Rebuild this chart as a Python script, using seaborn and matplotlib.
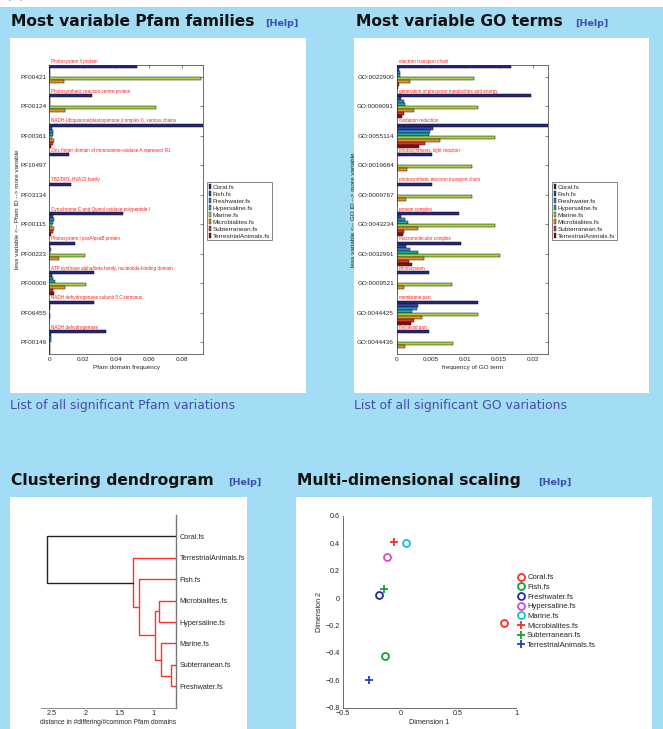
import matplotlib
matplotlib.use("Agg")
from matplotlib import pyplot as plt
from matplotlib.patches import Rectangle, Patch
import pandas as pd
import seaborn as sns

# ---- data ----
samples = ["Coral.fs", "Fish.fs", "Freshwater.fs", "Hypersaline.fs", "Marine.fs",
           "Microbialites.fs", "Subterranean.fs", "TerrestrialAnimals.fs"]
bar_colors = ["#26267a", "#3345ad", "#2a8fd0", "#1fae9e", "#a6d23e",
              "#e8902a", "#e23030", "#7c1616"]

pfam_ids = ["PF00421", "PF00124", "PF00361", "PF10497", "PF03134",
            "PF00115", "PF00223", "PF00006", "PF06455", "PF00146"]
pfam_names = ["Photosystem II protein",
              "Photosynthetic reaction centre protein",
              "NADH-Ubiquinone/plastoquinone (complex I), various chains",
              "Zinc-finger domain of monoamine-oxidase A repressor R1",
              "TB2/DP1, HVA22 family",
              "Cytochrome C and Quinol oxidase polypeptide I",
              "Photosystem I psaA/psaB protein",
              "ATP synthase alpha/beta family, nucleotide-binding domain",
              "NADH dehydrogenase subunit 5 C-terminus",
              "NADH dehydrogenase"]
pfam_coral = [0.0524, 0.0258, 0.094, 0.0120, 0.0130, 0.0444, 0.0154, 0.0270, 0.0266, 0.0338]
pfam_fish = [0.0003, 0.0005, 0.0014, 0.0001, 0.0001, 0.0020, 0.0005, 0.0015, 0.0002, 0.0008]
pfam_fresh = [0.0005, 0.0004, 0.0024, 0.0, 0.0, 0.0030, 0.0010, 0.0020, 0.0002, 0.0010]
pfam_hyper = [0.0002, 0.0002, 0.0024, 0.0, 0.0, 0.0025, 0.0002, 0.0037, 0.0001, 0.0010]
pfam_marine = [0.0914, 0.0638, 0.0014, 0.0, 0.0, 0.0018, 0.0215, 0.0218, 0.0003, 0.0003]
pfam_micro = [0.0088, 0.0094, 0.0030, 0.0, 0.0, 0.0028, 0.0060, 0.0094, 0.0002, 0.0005]
pfam_sub = [0.0001, 0.0001, 0.0024, 0.0, 0.0, 0.0025, 0.0001, 0.0020, 0.0001, 0.0005]
pfam_terr = [0.0001, 0.0001, 0.0008, 0.0, 0.0, 0.0010, 0.0001, 0.0027, 0.0001, 0.0005]

go_ids = ["GO:0022900", "GO:0006091", "GO:0055114", "GO:0019684", "GO:0009767",
          "GO:0043234", "GO:0032991", "GO:0009521", "GO:0044425", "GO:0044436"]
go_names = ["electron transport chain",
            "generation of precursor metabolites and energy",
            "oxidation reduction",
            "photosynthesis, light reaction",
            "photosynthetic electron transport chain",
            "protein complex",
            "macromolecular complex",
            "photosystem",
            "membrane part",
            "thylakoid part"]
go_coral = [0.0168, 0.0198, 0.0230, 0.0052, 0.0052, 0.0092, 0.0095, 0.0047, 0.0119, 0.0047]
go_fish = [0.0003, 0.0007, 0.0054, 0.0001, 0.0001, 0.0006, 0.0013, 0.0001, 0.0032, 0.0001]
go_fresh = [0.0005, 0.0011, 0.0049, 0.0, 0.0, 0.0012, 0.0020, 0.0001, 0.0030, 0.0001]
go_hyper = [0.0005, 0.0012, 0.0048, 0.0, 0.0, 0.0016, 0.0032, 0.0, 0.0022, 0.0]
go_marine = [0.0113, 0.0119, 0.0144, 0.0111, 0.0111, 0.0145, 0.0152, 0.0082, 0.0120, 0.0083]
go_micro = [0.0019, 0.0026, 0.0064, 0.0015, 0.0014, 0.0031, 0.0040, 0.0011, 0.0037, 0.0012]
go_sub = [0.0004, 0.0011, 0.0042, 0.0, 0.0, 0.0010, 0.0018, 0.0, 0.0026, 0.0]
go_terr = [0.0002, 0.0008, 0.0033, 0.0, 0.0, 0.0009, 0.0023, 0.0, 0.0021, 0.0]

# dendrogram: leaves top to bottom, then merges (node ids >= 8 are earlier merges)
dendro_leaves = ["Coral.fs", "TerrestrialAnimals.fs", "Fish.fs", "Microbialites.fs",
                 "Hypersaline.fs", "Marine.fs", "Subterranean.fs", "Freshwater.fs"]
link_a = [6, 5, 3, 10, 2, 1, 0]
link_b = [7, 8, 4, 9, 11, 12, 13]
link_h = [0.755, 0.90, 0.92, 0.985, 1.22, 1.30, 2.57]

mds_x = [0.90, -0.13, -0.19, -0.12, 0.05, -0.06, -0.14, -0.27]
mds_y = [-0.18, -0.42, 0.02, 0.30, 0.40, 0.41, 0.065, -0.60]
mds_colors = ["#ff2a2a", "#12a035", "#2a2aa0", "#e048c0", "#12c0e0",
              "#ff2a2a", "#12a035", "#2a3cc0"]
mds_markers = ["o", "o", "o", "o", "o", "+", "+", "+"]

# ---- figure ----
sns.set_style("white")
plt.rcParams["font.family"] = ["Liberation Sans", "DejaVu Sans"]

W, H = 663, 729
BG = "#a2dcf5"
fig = plt.figure(figsize=(W / 100, H / 100), dpi=100, facecolor=BG)


def px_axes(l, t, r, b):
    return fig.add_axes([l / W, 1 - b / H, (r - l) / W, (b - t) / H])


def px_text(x, y, s, **kw):
    return fig.text(x / W, 1 - y / H, s, **kw)


def panel(l, t, r, b, color="white"):
    rect = Rectangle((l / W, 1 - b / H), (r - l) / W, (b - t) / H,
                     transform=fig.transFigure, facecolor=color,
                     edgecolor="none", zorder=-5)
    fig.patches.append(rect)
    return rect


# top strip with the (cut) panel letter
panel(0, 0, W, 7)
px_text(6, 2, "(a)", fontsize=10, family="DejaVu Sans", va="bottom")

p1 = panel(10, 38, 306, 393)
p2 = panel(354, 38, 649, 393)
p3 = panel(10, 497, 247, 729)
p4 = panel(296, 497, 652, 729)

title_kw = dict(family="DejaVu Sans", fontweight="bold", fontsize=11.2, color="#111111")
help_kw = dict(family="DejaVu Sans", fontweight="bold", fontsize=6.8, color="#3d4eb0")
link_kw = dict(family="DejaVu Sans", fontsize=8.9, color="#4a4aa8")

px_text(11, 26, "Most variable Pfam families", **title_kw)
px_text(265, 26, "[Help]", **help_kw)
px_text(356, 26, "Most variable GO terms", **title_kw)
px_text(575, 26, "[Help]", **help_kw)
px_text(10, 409, "List of all significant Pfam variations", **link_kw)
px_text(354, 409, "List of all significant GO variations", **link_kw)
px_text(11, 485, "Clustering dendrogram", **title_kw)
px_text(228, 485, "[Help]", **help_kw)
px_text(297, 485, "Multi-dimensional scaling", **title_kw)
px_text(538, 485, "[Help]", **help_kw)


def bar_panel(ax, ids, names, cols, xmax, xticks, xticklabels, xlabel, ylabel, leg_xy):
    rows = []
    for s, vals in zip(samples, cols):
        for i, v in zip(ids, vals):
            rows.append({"id": i, "freq": v, "sample": s})
    df = pd.DataFrame(rows)
    sns.barplot(data=df, x="freq", y="id", hue="sample", hue_order=samples,
                order=ids, palette=bar_colors, orient="h", saturation=1,
                edgecolor="#111111", linewidth=0.35, width=0.8, ax=ax, legend=False)
    ax.set_xlim(0, xmax)
    ax.set_ylim(len(ids) - 0.6, -0.4)
    ax.set_xticks(xticks)
    ax.set_xticklabels(xticklabels)
    ax.tick_params(direction="in", length=2, width=0.4, labelsize=4.6,
                   top=True, right=True, pad=2)
    for sp in ax.spines.values():
        sp.set_linewidth(0.5)
        sp.set_color("#333333")
    ax.set_xlabel(xlabel, fontsize=4.6, labelpad=2)
    ax.set_ylabel(ylabel, fontsize=4.6, labelpad=0.5)
    for k, name in enumerate(names):
        ax.text(0.0011 * xmax / 0.09, k - 0.43, name, color="#ff1a1a", fontsize=3.3,
                va="bottom", ha="left", clip_on=False)
    handles = [Patch(facecolor=c, edgecolor="#111111", linewidth=0.3, label=s)
               for s, c in zip(samples, bar_colors)]
    ax.legend(handles=handles, loc="upper left",
              bbox_to_anchor=(leg_xy[0] / W, 1 - leg_xy[1] / H),
              bbox_transform=fig.transFigure, fontsize=4.6, frameon=True,
              fancybox=False, edgecolor="#555555", framealpha=1,
              handlelength=0.35, handleheight=1.0, handletextpad=0.3,
              labelspacing=0.15, borderpad=0.25, borderaxespad=0)
    ax.get_legend().get_frame().set_linewidth(0.5)


ax1 = px_axes(49.3, 65, 203.3, 354)
bar_panel(ax1, pfam_ids, pfam_names,
          [pfam_coral, pfam_fish, pfam_fresh, pfam_hyper, pfam_marine,
           pfam_micro, pfam_sub, pfam_terr],
          0.0925, [0, 0.02, 0.04, 0.06, 0.08], ["0", "0.02", "0.04", "0.06", "0.08"],
          "Pfam domain frequency", "less variable <-- Pfam ID --> more variable",
          (207, 182))

ax2 = px_axes(396.7, 65, 547.7, 354)
bar_panel(ax2, go_ids, go_names,
          [go_coral, go_fish, go_fresh, go_hyper, go_marine,
           go_micro, go_sub, go_terr],
          0.0222, [0, 0.005, 0.01, 0.015, 0.02], ["0", "0.005", "0.01", "0.015", "0.02"],
          "frequency of GO term", "less variable <-- GO ID --> more variable",
          (552, 182))

# ---- dendrogram ----
ax3 = px_axes(40.7, 515, 175.7, 707.7)
node_y = {i: i + 1 for i in range(len(dendro_leaves))}
node_h = {i: 0.0 for i in range(len(dendro_leaves))}
for k, (a, b, h) in enumerate(zip(link_a, link_b, link_h)):
    col = "#222222" if k == len(link_h) - 1 else "#ff3030"
    ax3.plot([node_h[a], h, h, node_h[b]], [node_y[a], node_y[a], node_y[b], node_y[b]],
             color=col, lw=1.0, solid_joinstyle="miter")
    new = len(dendro_leaves) + k
    node_y[new] = (node_y[a] + node_y[b]) / 2
    node_h[new] = h
ax3.set_xlim(2.66, 0.68)
ax3.set_ylim(9, 0)
ax3.set_xticks([2.5, 2, 1.5, 1])
ax3.set_xticklabels(["2.5", "2", "1.5", "1"])
ax3.set_yticks(range(1, len(dendro_leaves) + 1))
ax3.set_yticklabels(dendro_leaves)
ax3.yaxis.tick_right()
for lab in ax3.get_yticklabels():
    lab.set_clip_path(p3)
ax3.tick_params(axis="y", length=0, labelsize=5.2, pad=3)
ax3.tick_params(axis="x", direction="in", length=2, width=0.4, labelsize=5.2, pad=2)
for side in ["top", "left"]:
    ax3.spines[side].set_visible(False)
for side in ["right", "bottom"]:
    ax3.spines[side].set_color("#777777")
ax3.spines["right"].set_linewidth(1.0)
ax3.spines["bottom"].set_linewidth(0.6)
ax3.set_xlabel("distance in #differing/#common Pfam domains", fontsize=4.8, labelpad=1)
ax3.set_facecolor("none")

# ---- MDS ----
ax4 = px_axes(342.7, 516, 516, 707.7)
for name, x, y, c, m in zip(samples, mds_x, mds_y, mds_colors, mds_markers):
    ax4.plot(x, y, m, mfc="none", mec=c, mew=1.3,
             ms=5 if m == "o" else 6, ls="none", label=name)
ax4.set_xlim(-0.5, 1)
ax4.set_ylim(-0.8, 0.6)
ax4.set_xticks([-0.5, 0, 0.5, 1])
ax4.set_xticklabels(["\u22120.5", "0", "0.5", "1"])
ax4.set_yticks([-0.8, -0.6, -0.4, -0.2, 0, 0.2, 0.4, 0.6])
ax4.set_yticklabels(["\u22120.8", "\u22120.6", "\u22120.4", "\u22120.2", "0", "0.2", "0.4", "0.6"])
ax4.tick_params(direction="in", length=2, width=0.4, labelsize=5.2, pad=2)
sns.despine(ax=ax4)
for side in ["left", "bottom"]:
    ax4.spines[side].set_color("#333333")
    ax4.spines[side].set_linewidth(0.5)
ax4.set_xlabel("Dimension 1", fontsize=5.2, labelpad=1)
ax4.set_ylabel("Dimension 2", fontsize=5.2, labelpad=2)
ax4.legend(loc="upper left", bbox_to_anchor=(518 / W, 1 - 574 / H),
           bbox_transform=fig.transFigure, frameon=False, fontsize=5.5,
           handlelength=0.9, handletextpad=0.3, labelspacing=0.3,
           borderpad=0, borderaxespad=0)

fig.savefig("out.png", dpi=100, facecolor=BG)
